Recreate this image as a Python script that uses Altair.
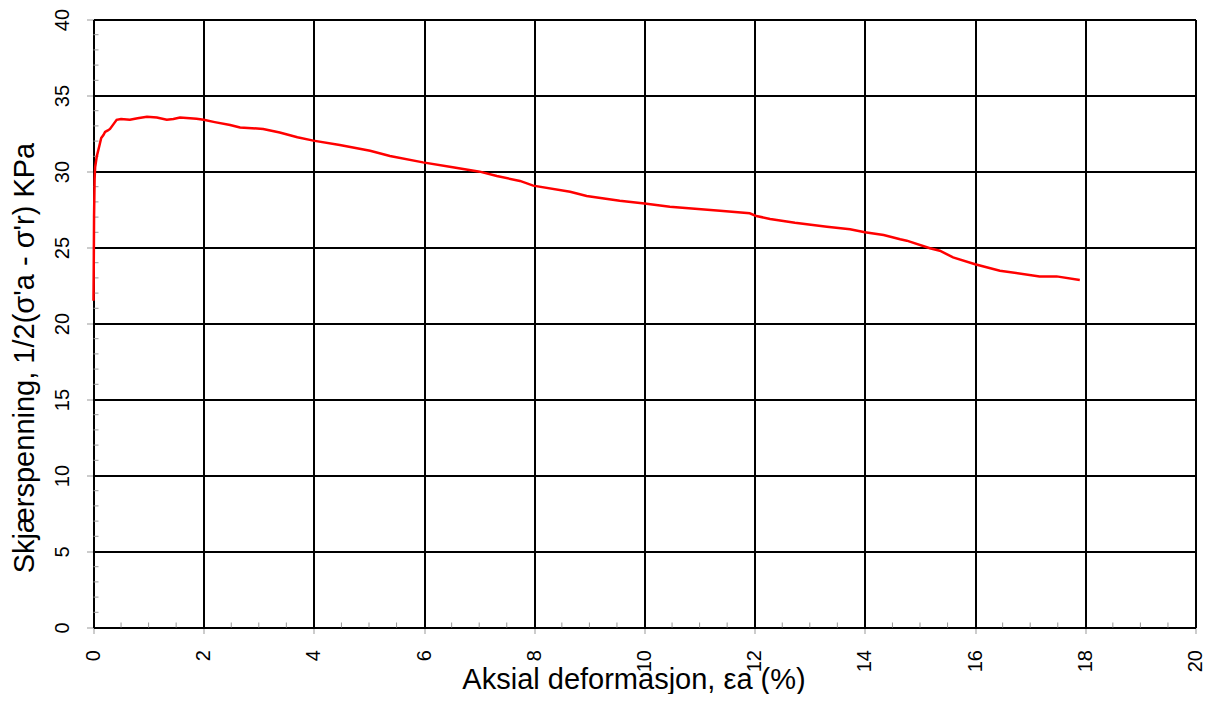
import altair as alt
import pandas as pd

# Curve values
strain = [0, 0.005, 0.01, 0.02, 0.03, 0.06, 0.1, 0.14, 0.18, 0.21, 0.26, 0.3, 0.36, 0.42, 0.5,
          0.66, 0.8, 0.97, 1.15, 1.33, 1.45, 1.57, 1.75, 1.87, 2.0, 2.2, 2.48, 2.66, 3.08, 3.38,
          3.7, 3.99, 4.47, 5.02, 5.38, 5.98, 6.52, 7.01, 7.32, 7.74, 7.98, 8.65, 8.95, 9.55, 10.0,
          10.46, 11.37, 11.91, 12.03, 12.28, 12.73, 13.31, 13.73, 14.0, 14.34, 14.64, 14.76, 15.18,
          15.36, 15.6, 16.0, 16.45, 17.17, 17.48, 17.9]
stress = [21.5, 24, 27, 29.5, 30.3, 31.0, 31.6, 32.2, 32.4, 32.6, 32.7, 32.8, 33.1, 33.4, 33.45,
          33.4, 33.5, 33.6, 33.55, 33.4, 33.45, 33.55, 33.5, 33.47, 33.4, 33.25, 33.06, 32.9, 32.8, 32.56,
          32.25, 32.03, 31.74, 31.37, 31.02, 30.6, 30.28, 29.99, 29.7, 29.38, 29.07, 28.67, 28.39, 28.08, 27.9,
          27.68, 27.42, 27.25, 27.07, 26.88, 26.63, 26.37, 26.2, 26.0, 25.82, 25.54, 25.45, 24.95,
          24.79, 24.35, 23.9, 23.47, 23.1, 23.1, 22.86]

x_ticks = [0, 2, 4, 6, 8, 10, 12, 14, 16, 18, 20]
y_ticks = [0, 5, 10, 15, 20, 25, 30, 35, 40]
x_minor = [i * 0.5 for i in range(41) if i % 4 != 0]
y_minor = [i for i in range(41) if i % 5 != 0]

x_title = "Aksial deformasjon, εa (%)"
y_title = "Skjærspenning, 1/2(σ'a - σ'r) KPa"

W, H = 1102, 608
FONT = "Liberation Sans"

df = pd.DataFrame({"x": strain, "y": stress, "i": list(range(len(strain)))})
dfx = pd.DataFrame({"x": x_minor})
dfy = pd.DataFrame({"y": y_minor})

xscale = alt.Scale(domain=[0, 20], nice=False, zero=False)
yscale = alt.Scale(domain=[0, 40], nice=False, zero=False)

xaxis = alt.Axis(values=x_ticks, title=x_title, labelAngle=270, labelAlign="right",
                 labelBaseline="middle", labelFontSize=20, labelFont=FONT, labelColor="black",
                 labelPadding=16, tickColor="#999999", tickSize=6, tickWidth=1,
                 domainColor="black", domainWidth=2, grid=True, gridColor="black", gridWidth=2,
                 titleFont=FONT, titleFontSize=29, titleFontWeight="normal", titleColor="black",
                 titleAnchor="middle", titleAlign="center", titleBaseline="alphabetic",
                 titleX=540, titleY=60.5, format="d")
yaxis = alt.Axis(values=y_ticks, title=y_title, labelAngle=270, labelAlign="center",
                 labelBaseline="bottom", labelFontSize=20, labelFont=FONT, labelColor="black",
                 labelPadding=14, tickColor="#999999", tickSize=7, tickWidth=1,
                 domainColor="black", domainWidth=2, grid=True, gridColor="black", gridWidth=2,
                 titleFont=FONT, titleFontSize=29, titleFontWeight="normal", titleColor="black",
                 titleAngle=270, titleAlign="center", titleBaseline="alphabetic",
                 titleX=-60.5, titleY=338, format="d")

base_line = alt.Chart(df).mark_line(color="#ff0000", strokeWidth=2.5).encode(
    x=alt.X("x:Q", scale=xscale, axis=xaxis),
    y=alt.Y("y:Q", scale=yscale, axis=yaxis),
    order="i:Q",
)

minor_x = alt.Chart(dfx).mark_rule(color="#999999", strokeWidth=1).encode(
    x=alt.X("x:Q", scale=xscale),
    y=alt.value(H),
    y2=alt.value(H - 5),
)
minor_y = alt.Chart(dfy).mark_rule(color="#999999", strokeWidth=1).encode(
    y=alt.Y("y:Q", scale=yscale),
    x=alt.value(0),
    x2=alt.value(5),
)

chart = alt.layer(minor_x, minor_y, base_line).properties(
    width=W, height=H,
    autosize=alt.AutoSizeParams(type="none"),
    padding={"left": 85.5, "top": 11.5, "right": 12, "bottom": 66.5},
).configure_view(stroke="black", strokeWidth=2).configure(background="white")

chart.save("out.html", embed_options={"renderer": "svg", "actions": False})
